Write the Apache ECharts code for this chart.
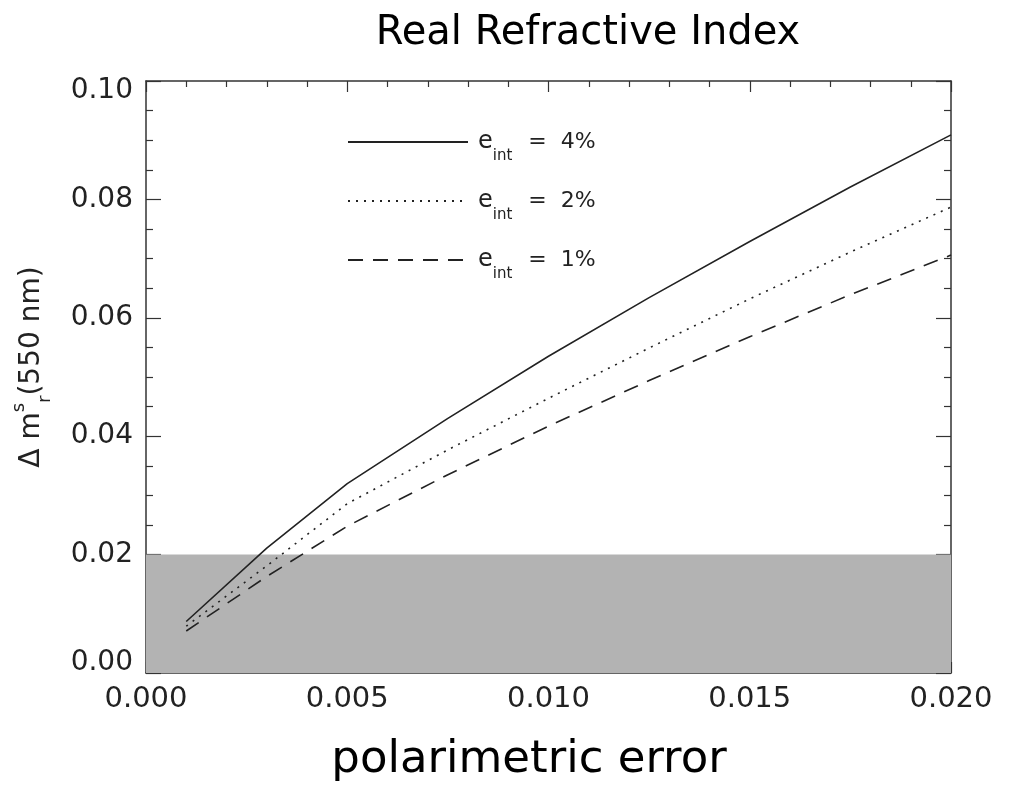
<!DOCTYPE html>
<html>
<head>
<meta charset="utf-8">
<script src="https://cdn.jsdelivr.net/npm/echarts@6/dist/echarts.min.js"></script>
<style>html,body{margin:0;padding:0;background:#fff;}#c{width:1012px;height:796px;}</style>
</head>
<body>
<div id="c"></div>
<script>
// ---- data ----
const xValues = [0.001, 0.003, 0.005, 0.0075, 0.010, 0.0125, 0.015, 0.0175, 0.020];
const eInt4 = [0.0087, 0.0211, 0.0320, 0.0430, 0.0535, 0.0634, 0.0729, 0.0821, 0.0909];
const eInt2 = [0.0079, 0.0181, 0.0286, 0.0377, 0.0464, 0.0549, 0.0632, 0.0711, 0.0787];
const eInt1 = [0.0071, 0.0163, 0.0248, 0.0335, 0.0417, 0.0494, 0.0568, 0.0639, 0.0706];
const seriesNames = ['4%', '2%', '1%'];
const shadedBand = [0.00, 0.02];
const titleText = 'Real Refractive Index';
const xTitle = 'polarimetric error';

const pairs = ys => xValues.map((x, i) => [x, ys[i]]);
const ink = '#222';
const font = 'DejaVu Sans';

const chart = echarts.init(document.getElementById('c'), null, {renderer: 'canvas'});

const xBase = {
  type: 'value', min: 0, max: 0.02, interval: 0.005,
  axisLine: {show: true, onZero: false, lineStyle: {color: '#333', width: 1.5}},
  axisTick: {show: true, inside: true, length: 11, lineStyle: {color: '#333', width: 1.2}},
  minorTick: {show: true, splitNumber: 5, length: 6, lineStyle: {color: '#333', width: 1.2}},
  splitLine: {show: false}
};
const yBase = {
  type: 'value', min: 0, max: 0.1, interval: 0.02,
  axisLine: {show: true, onZero: false, lineStyle: {color: '#333', width: 1.5}},
  axisTick: {show: true, inside: true, length: 15, lineStyle: {color: '#333', width: 1.2}},
  minorTick: {show: true, splitNumber: 4, length: 7, lineStyle: {color: '#333', width: 1.2}},
  splitLine: {show: false}
};

const lineSeries = (name, ys, type, z) => ({
  name: name, type: 'line', data: pairs(ys), symbol: 'none', smooth: false,
  lineStyle: {color: '#222', width: 1.6, type: type},
  itemStyle: {color: '#222'},
  z: z, animation: false
});

chart.setOption({
  backgroundColor: '#fff',
  animation: false,
  title: [
    {text: titleText, left: 583, top: 9, textAlign: 'center',
     textStyle: {fontFamily: font, fontSize: 40, fontWeight: 'normal', color: '#000'}},
    {text: xTitle, left: 524, top: 733, textAlign: 'center',
     textStyle: {fontFamily: font, fontSize: 45, fontWeight: 'normal', color: '#000'}}
  ],
  grid: {left: 146, top: 81, right: 61, bottom: 123, containLabel: false},
  legend: {
    data: seriesNames, left: 347, top: 130, orient: 'vertical', padding: 0,
    itemWidth: 120, itemHeight: 14, itemGap: 25,
    inactiveColor: '#222',
    itemStyle: {opacity: 0},
    formatter: n => '{e|e}{s|int}{q|=}{v|' + n + '}',
    textStyle: {
      color: ink, fontFamily: font,
      rich: {
        e: {fontSize: 24, lineHeight: 44, verticalAlign: 'middle', padding: [0, 0, 0, 5], fontFamily: font, color: ink},
        s: {fontSize: 15, lineHeight: 15, verticalAlign: 'bottom', fontFamily: font, color: ink},
        q: {fontSize: 22, lineHeight: 44, verticalAlign: 'middle', padding: [0, 14, 0, 16], fontFamily: font, color: ink},
        v: {fontSize: 22, lineHeight: 44, verticalAlign: 'middle', fontFamily: font, color: ink}
      }
    }
  },
  xAxis: [
    Object.assign({}, xBase, {
      position: 'bottom',
      axisLabel: {margin: 12, fontFamily: font, fontSize: 29, color: ink,
                  formatter: v => v.toFixed(3)}
    }),
    Object.assign({}, xBase, {position: 'top', axisLabel: {show: false}})
  ],
  yAxis: [
    Object.assign({}, yBase, {
      position: 'left',
      name: '{a|Δ m}{s|s}{r|r}{a|(550 nm)}',
      nameLocation: 'middle', nameRotate: 90, nameGap: 92,
      nameTextStyle: {
        fontFamily: font, color: ink, padding: [0, 0, 0, 20],
        rich: {
          a: {fontSize: 28, lineHeight: 44, verticalAlign: 'middle', fontFamily: font, color: ink},
          s: {fontSize: 18, lineHeight: 18, verticalAlign: 'top', fontFamily: font, color: ink},
          r: {fontSize: 18, lineHeight: 18, verticalAlign: 'bottom', fontFamily: font, color: ink}
        }
      },
      axisLabel: {
        margin: 13, fontFamily: font, fontSize: 28, color: ink,
        formatter: v => {
          const s = v.toFixed(2);
          if (Math.abs(v - 0.1) < 1e-9) return '{t|' + s + '}';
          if (Math.abs(v) < 1e-9) return '{b|' + s + '}';
          return s;
        },
        rich: {
          t: {fontFamily: font, fontSize: 28, color: ink, padding: [20, 0, 0, 0]},
          b: {fontFamily: font, fontSize: 28, color: ink, padding: [0, 0, 20, 0]}
        }
      }
    }),
    Object.assign({}, yBase, {position: 'right', axisLabel: {show: false}})
  ],
  series: [
    Object.assign(lineSeries(seriesNames[0], eInt4, 'solid', 5), {
      markArea: {
        silent: true,
        itemStyle: {color: '#b3b3b3'},
        data: [[{yAxis: shadedBand[0]}, {yAxis: shadedBand[1]}]]
      }
    }),
    lineSeries(seriesNames[1], eInt2, [2, 6], 5),
    lineSeries(seriesNames[2], eInt1, [15, 10], 5)
  ]
});
</script>
</body>
</html>
